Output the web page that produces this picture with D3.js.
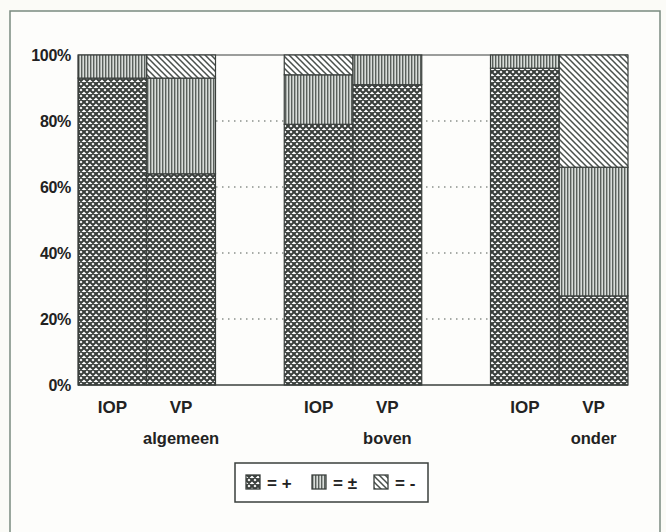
<!DOCTYPE html>
<html><head><meta charset="utf-8">
<script src="https://cdn.jsdelivr.net/npm/d3@7"></script>
<style>body{margin:0;background:#fbfbf7;} svg{display:block;}</style>
</head><body>
<script>
const groups = ["algemeen", "boven", "onder"];
const types = ["IOP", "VP"];
const plusVals  = [93, 64, 79, 91, 96, 27];
const pmVals    = [7, 29, 15, 9, 4, 39];
const minusVals = [0, 7, 6, 0, 0, 34];
const yTicks = [0, 20, 40, 60, 80, 100];
const legendItems = [{key:"plus", label:"= +"}, {key:"pm", label:"= ±"}, {key:"minus", label:"= -"}];

const W = 666, H = 532;
const svg = d3.select("body").append("svg").attr("width", W).attr("height", H);
const defs = svg.append("defs");
const ink = "#3a3f3c";
const font = "Liberation Sans, Arial, sans-serif";

// patterns
const cs = 6;
const pCross = defs.append("pattern").attr("id","plus").attr("patternUnits","userSpaceOnUse").attr("width",cs).attr("height",cs);
pCross.append("rect").attr("width",cs).attr("height",cs).attr("fill","#fff");
pCross.append("path").attr("d",`M-1,-1 L${cs+1},${cs+1} M-1,${cs-1} L1,${cs+1} M${cs-1},-1 L${cs+1},1 M-1,${cs+1} L${cs+1},-1 M-1,1 L1,-1 M${cs-1},${cs+1} L${cs+1},${cs-1}`).attr("stroke",ink).attr("stroke-width",2.1);
const pV = defs.append("pattern").attr("id","pm").attr("patternUnits","userSpaceOnUse").attr("width",3).attr("height",3);
pV.append("rect").attr("width",3).attr("height",3).attr("fill","#d9ddda");
pV.append("rect").attr("width",1.4).attr("height",3).attr("fill","#5a605c");
const pD = defs.append("pattern").attr("id","minus").attr("patternUnits","userSpaceOnUse").attr("width",6).attr("height",6);
pD.append("rect").attr("width",6).attr("height",6).attr("fill","#fff");
pD.append("path").attr("d","M-1,-1 L7,7 M-1,5 L1,7 M5,-1 L7,1").attr("stroke","#4a504c").attr("stroke-width",1.5);

// frame
svg.append("rect").attr("x",10).attr("y",11).attr("width",650).attr("height",540)
  .attr("fill","#fdfdfb").attr("stroke","#7a8a80").attr("stroke-width",1.5);

const slots = [];
groups.forEach((g,gi)=>{ types.forEach(t=>slots.push(g+"|"+t)); if(gi<groups.length-1) slots.push(g+"|gap"); });
const x = d3.scaleBand().domain(slots).range([78, 628]).padding(0);
const y = d3.scaleLinear().domain([0,100]).range([385, 55]);

// dotted grid
svg.append("g").selectAll("line").data(yTicks.filter(v=>v>0&&v<100)).join("line")
  .attr("x1",78).attr("x2",628).attr("y1",d=>y(d)).attr("y2",d=>y(d))
  .attr("stroke","#8a908c").attr("stroke-width",1.3).attr("stroke-dasharray","1.5,4.5");

svg.append("line").attr("x1",78).attr("x2",628).attr("y1",y(100)).attr("y2",y(100)).attr("stroke",ink).attr("stroke-width",1.2);

// bars
const bars = [];
let i = 0;
groups.forEach(g=>types.forEach(t=>{
  const segs = [["plus",plusVals[i]],["pm",pmVals[i]],["minus",minusVals[i]]];
  let acc = 0;
  segs.forEach(([k,v])=>{ if(v>0){ bars.push({slot:g+"|"+t,k,y0:acc,y1:acc+v}); } acc+=v; });
  i++;
}));
svg.append("g").selectAll("rect").data(bars).join("rect")
  .attr("x",d=>x(d.slot)).attr("width",x.bandwidth())
  .attr("y",d=>y(d.y1)).attr("height",d=>y(d.y0)-y(d.y1))
  .attr("fill",d=>`url(#${d.k})`).attr("stroke",ink).attr("stroke-width",1.2);

// axis
const yAxis = d3.axisLeft(y).tickValues(yTicks).tickFormat(d=>d+"%").tickSize(0).tickPadding(7);
const ga = svg.append("g").attr("transform","translate(78,0)").call(yAxis);
ga.select(".domain").attr("stroke",ink).attr("stroke-width",1.2);
ga.selectAll("text").attr("font-family",font).attr("font-weight","bold").attr("font-size",16).attr("fill","#222").attr("letter-spacing","-0.3");
svg.append("line").attr("x1",78).attr("x2",628).attr("y1",y(0)).attr("y2",y(0)).attr("stroke",ink).attr("stroke-width",1.5);

// x labels
svg.append("g").selectAll("text").data(groups.flatMap(g=>types.map(t=>({g,t})))).join("text")
  .attr("x",d=>x(d.g+"|"+d.t)+x.bandwidth()/2).attr("y",413)
  .attr("text-anchor","middle").attr("font-family",font).attr("font-weight","bold").attr("font-size",17).attr("fill","#222")
  .text(d=>d.t);
svg.append("g").selectAll("text").data(groups).join("text")
  .attr("x",g=>x(g+"|IOP")+1.5*x.bandwidth()).attr("y",444)
  .attr("text-anchor","middle").attr("font-family",font).attr("font-weight","bold").attr("font-size",16.5).attr("fill","#222")
  .text(g=>g);

// legend
const lg = svg.append("g");
lg.append("rect").attr("x",235).attr("y",463).attr("width",193).attr("height",39).attr("fill","#fff").attr("stroke",ink).attr("stroke-width",1.5);
const lx = [246, 312, 374];
legendItems.forEach((it,j)=>{
  lg.append("rect").attr("x",lx[j]).attr("y",475).attr("width",14).attr("height",14).attr("fill",`url(#${it.key})`).attr("stroke",ink).attr("stroke-width",1.3);
  lg.append("text").attr("x",lx[j]+21).attr("y",489).attr("font-family",font).attr("font-weight","bold").attr("font-size",17).attr("fill","#222").text(it.label);
});
</script>
</body></html>
